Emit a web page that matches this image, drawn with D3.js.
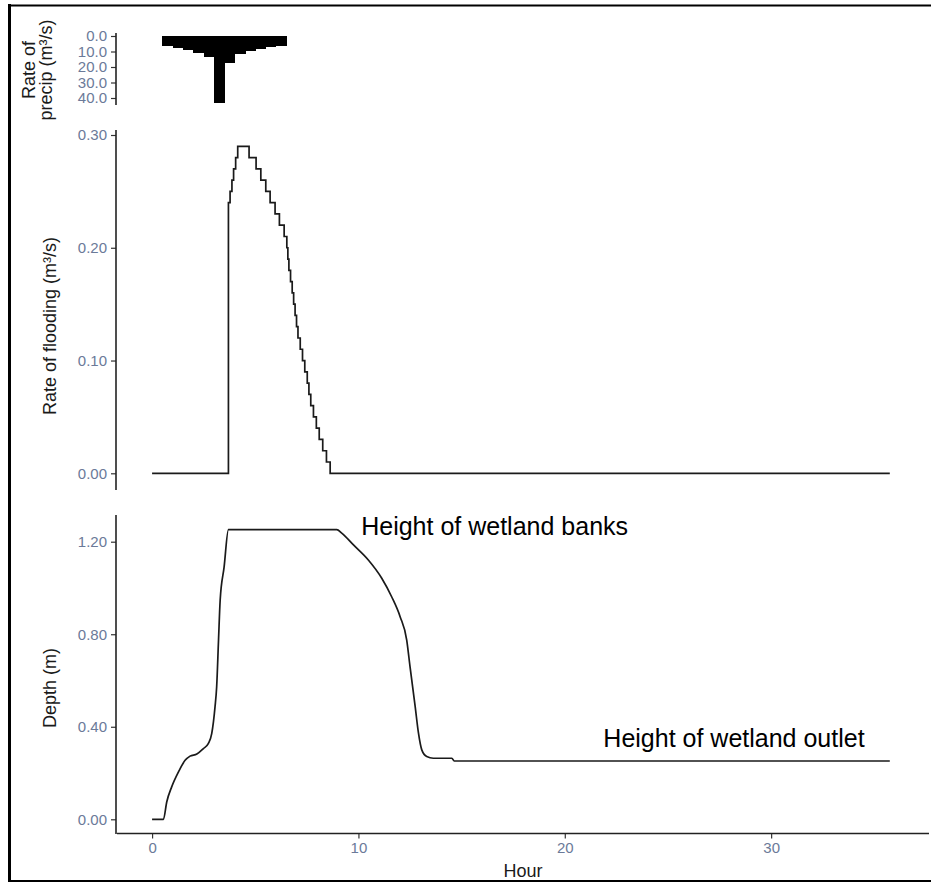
<!DOCTYPE html>
<html>
<head>
<meta charset="utf-8">
<script src="https://cdn.jsdelivr.net/npm/d3@7"></script>
<style>
  html, body { margin: 0; padding: 0; background: #fff; }
  svg { display: block; font-family: "Liberation Sans", Arial, sans-serif; }
</style>
</head>
<body>
<svg id="chart" width="931" height="882"></svg>
<script>
// Rainfall hyetograph: half-hour blocks starting at these hours
const precipStart = [0.5, 1.0, 1.5, 2.0, 2.5, 3.0, 3.5, 4.0, 4.5, 5.0, 5.5, 6.0];
const precipRate  = [6.5, 7.5, 9.0, 11.2, 13.3, 43.4, 17.6, 11.6, 9.6, 8.2, 7.2, 6.5];
const precipBlock = 0.5;
const precipTicks = [0, 10, 20, 30, 40];

// Flooding rate (reported to 0.01 m3/s, drawn as steps)
const floodHour = [0, 3.70, 3.78, 3.87, 3.95, 4.05, 4.15, 4.70, 5.04, 5.27, 5.51, 5.72, 5.96, 6.17, 6.40,
                   6.53, 6.58, 6.63, 6.71, 6.79, 6.86, 6.93, 7.00, 7.07, 7.18, 7.29, 7.40, 7.52, 7.60,
                   7.69, 7.82, 7.96, 8.10, 8.27, 8.45, 8.63, 35.75];
const floodRate = [0, 0.24, 0.25, 0.26, 0.27, 0.28, 0.29, 0.28, 0.27, 0.26, 0.25, 0.24, 0.23, 0.22, 0.21,
                   0.20, 0.19, 0.18, 0.17, 0.16, 0.15, 0.14, 0.13, 0.12, 0.11, 0.10, 0.09, 0.08, 0.07,
                   0.06, 0.05, 0.04, 0.03, 0.02, 0.01, 0, 0];
const floodTicks = [0, 0.10, 0.20, 0.30];

// Wetland water depth
const depthHour = [0, 0.55, 0.71, 0.95, 1.28, 1.60, 1.84, 2.17, 2.49, 2.73, 2.89, 3.05, 3.13, 3.22, 3.30,
                   3.49, 3.70, 8.95, 9.19, 9.76, 10.48, 11.13, 11.61, 12.02, 12.34, 12.50, 12.75, 12.91,
                   13.07, 13.31, 13.63, 14.53, 14.64, 35.75];
const depthVal  = [0, 0, 0.075, 0.14, 0.205, 0.255, 0.273, 0.282, 0.306, 0.328, 0.37, 0.486, 0.573, 0.775,
                   0.948, 1.09, 1.252, 1.252, 1.237, 1.186, 1.121, 1.042, 0.962, 0.876, 0.775, 0.66, 0.487,
                   0.372, 0.30, 0.271, 0.264, 0.264, 0.252, 0.252];
const depthTicks = [0, 0.40, 0.80, 1.20];

const hourTicks = [0, 10, 20, 30];
const labels = [
  { text: "Height of wetland banks", hour: 16.6, depth: 1.252 },
  { text: "Height of wetland outlet", hour: 28.2, depth: 0.252 }
];

const svg = d3.select("#chart");
const ink = "#1a1a1a";
const tickInk = "#6b7a99";
const axisX = 116;

// Page frame
svg.append("line").attr("x1", 9.5).attr("x2", 9.5).attr("y1", 4).attr("y2", 882)
  .attr("stroke", "#000").attr("stroke-width", 3);
svg.append("line").attr("x1", 8).attr("x2", 931).attr("y1", 5.5).attr("y2", 5.5)
  .attr("stroke", "#000").attr("stroke-width", 2);
svg.append("line").attr("x1", 8).attr("x2", 931).attr("y1", 881).attr("y2", 881)
  .attr("stroke", "#000").attr("stroke-width", 2);

// Shared hour scale
const x = d3.scaleLinear().domain([-1.7, 37.65]).range([117, 929]);

const yP = d3.scaleLinear().domain([0, 40]).range([36, 98]);
const yF = d3.scaleLinear().domain([0, 0.3]).range([473.3, 135]);
const yD = d3.scaleLinear().domain([0, 1.2]).range([819.3, 541.7]);

function yAxis(scale, ticks, fmt, top, bottom) {
  const g = svg.append("g").attr("transform", `translate(${axisX},0)`);
  g.call(d3.axisLeft(scale).tickValues(ticks).tickFormat(fmt).tickSize(5).tickPadding(4));
  g.select(".domain").remove();
  g.selectAll(".tick line").attr("stroke", "#333").attr("stroke-width", 1.2);
  g.selectAll(".tick text").attr("fill", tickInk).attr("font-size", 15)
    .attr("font-family", "Liberation Sans, Arial, sans-serif");
  g.append("line").attr("x1", 0).attr("x2", 0).attr("y1", top).attr("y2", bottom)
    .attr("stroke", "#222").attr("stroke-width", 1.6);
}

function yTitle(lines, cx, cy) {
  const t = svg.append("text")
    .attr("transform", `translate(${cx},${cy}) rotate(-90)`)
    .attr("text-anchor", "middle").attr("font-size", 18).attr("fill", ink);
  lines.forEach((s, i) => {
    t.append("tspan").attr("x", 0).attr("dy", i === 0 ? 0 : 17).text(s);
  });
}

// Precipitation panel (inverted bars hanging from zero)
svg.append("g").attr("shape-rendering", "crispEdges").selectAll("rect")
  .data(precipStart)
  .join("rect")
  .attr("x", (d) => x(d))
  .attr("width", (d) => x(d + precipBlock) - x(d) + 0.6)
  .attr("y", yP(0))
  .attr("height", (d, i) => yP(precipRate[i]) - yP(0))
  .attr("fill", "#000");
yAxis(yP, precipTicks, d3.format(".1f"), 33, 105);
yTitle(["Rate of", "precip (m³/s)"], 35, 70);

// Flooding panel
const floodPts = floodHour.map((h, i) => [h, floodRate[i]]);
svg.append("path")
  .datum(floodPts)
  .attr("fill", "none").attr("stroke", ink).attr("stroke-width", 1.7)
  .attr("d", d3.line().x((d) => x(d[0])).y((d) => yF(d[1])).curve(d3.curveStepAfter));
yAxis(yF, floodTicks, d3.format(".2f"), 130, 490);
yTitle(["Rate of flooding (m³/s)"], 56, 326);

// Depth panel
const depthPts = depthHour.map((h, i) => [h, depthVal[i]]);
svg.append("path")
  .datum(depthPts)
  .attr("fill", "none").attr("stroke", ink).attr("stroke-width", 1.7)
  .attr("d", d3.line().x((d) => x(d[0])).y((d) => yD(d[1])).curve(d3.curveMonotoneX));
yAxis(yD, depthTicks, d3.format(".2f"), 515, 834);
yTitle(["Depth (m)"], 56, 688);

// Hour axis under the depth panel
const gx = svg.append("g").attr("transform", "translate(0,833.5)");
gx.call(d3.axisBottom(x).tickValues(hourTicks).tickFormat(d3.format("d")).tickSize(5).tickPadding(4));
gx.select(".domain").remove();
gx.selectAll(".tick line").attr("stroke", "#333").attr("stroke-width", 1.2);
gx.selectAll(".tick text").attr("fill", tickInk).attr("font-size", 15)
  .attr("font-family", "Liberation Sans, Arial, sans-serif");
gx.append("line").attr("x1", 117).attr("x2", 929).attr("y1", 0).attr("y2", 0)
  .attr("stroke", "#222").attr("stroke-width", 1.6);
svg.append("text").attr("x", 523).attr("y", 877).attr("text-anchor", "middle")
  .attr("font-size", 18).attr("fill", ink).text("Hour");

// Annotations on the depth panel
svg.append("g").selectAll("text")
  .data(labels)
  .join("text")
  .attr("x", (d) => x(d.hour))
  .attr("y", (d, i) => yD(d.depth) + (i === 0 ? 5 : -14))
  .attr("text-anchor", "middle")
  .attr("font-size", 25)
  .attr("fill", "#000")
  .text((d) => d.text);
</script>
</body>
</html>
